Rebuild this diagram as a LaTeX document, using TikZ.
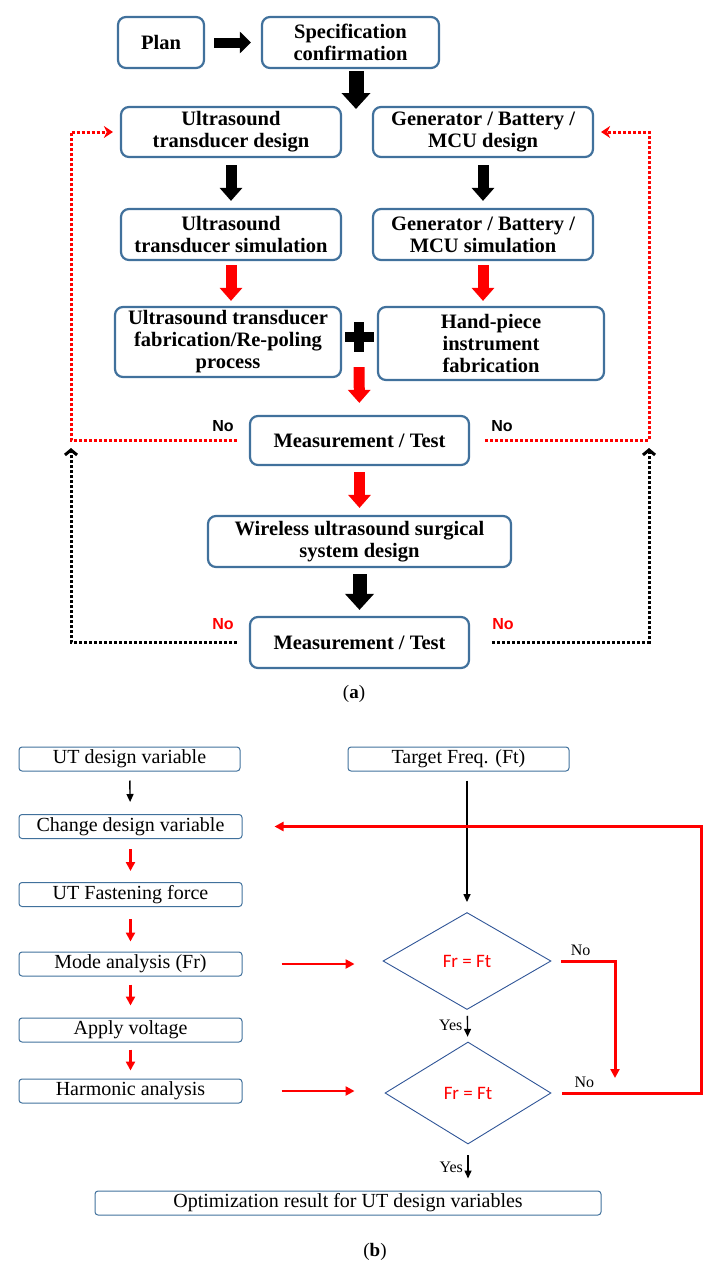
\documentclass[tikz,border=0pt]{standalone}
\usepackage{fontspec}
\setmainfont{Liberation Serif}
\newfontfamily\arialfont{Liberation Sans}
\newfontfamily\calibrifont{Carlito}
\usetikzlibrary{arrows.meta}
\usetikzlibrary{shapes.geometric}

\definecolor{boxblue}{HTML}{41719C}
\definecolor{diablue}{HTML}{2F5597}

\begin{document}
\begin{tikzpicture}[x=1pt,y=-1pt,%
  abox/.style={draw=boxblue,line width=2.2pt,rounded corners=8pt,align=center,%
  inner sep=0pt,font=\fontsize{20.5}{22}\selectfont\bfseries},
  bbox/.style={draw=boxblue,line width=1pt,rounded corners=3pt,minimum height=24pt,%
  inner sep=0pt,font=\fontsize{20}{22}\selectfont},
  cond/.style={diamond,draw=diablue,line width=0.9pt,inner sep=0pt,text=red,%
  font=\calibrifont\fontsize{19}{21}\selectfont},
  fat/.style={line width=11pt,-{Triangle[length=13pt,width=22pt]}},
  fatter/.style={line width=15pt,-{Triangle[length=16pt,width=28pt]}},
  dotline/.style={line width=3pt,dash pattern=on 3pt off 2pt},
  thinarrow/.style={line width=1.4pt,-{Triangle[length=8pt,width=7pt]}},
  redarrow/.style={red,line width=2.5pt,-{Triangle[length=9pt,width=9pt]}},
  nolabel/.style={font=\arialfont\bfseries\fontsize{16}{18}\selectfont},
  small/.style={font=\fontsize{16}{18}\selectfont},
  capt/.style={font=\fontsize{19}{21}\selectfont}]
  \useasboundingbox (0,0) rectangle (714,1274);

  % (a) design flow
  \node[abox,minimum width=86pt,minimum height=51pt]  (plan)  at (161,42.5)    {Plan};
  \node[abox,minimum width=177pt,minimum height=51pt] (spec)  at (350.5,42.5)  {Specification\\confirmation};
  \node[abox,minimum width=220pt,minimum height=50pt] (utd)   at (231,132)     {Ultrasound\\transducer design};
  \node[abox,minimum width=220pt,minimum height=50pt] (gend)  at (483,132)     {Generator / Battery /\\MCU design};
  \node[abox,minimum width=220pt,minimum height=51pt] (uts)   at (231,234.5)   {Ultrasound\\transducer simulation};
  \node[abox,minimum width=220pt,minimum height=51pt] (gens)  at (483,234.5)   {Generator / Battery /\\MCU simulation};
  \node[abox,minimum width=226pt,minimum height=70pt] (utf)   at (228,342)     {Ultrasound transducer\\fabrication/Re-poling\\process};
  \node[abox,minimum width=226pt,minimum height=73pt] (hand)  at (491,343.5)   {Hand-piece\\instrument\\fabrication};
  \node[abox,minimum width=219pt,minimum height=49pt] (meas1) at (359.5,440.5) {Measurement / Test};
  \node[abox,minimum width=303pt,minimum height=51pt] (wire)  at (359.5,541.5) {Wireless ultrasound surgical\\system design};
  \node[abox,minimum width=219pt,minimum height=51pt] (meas2) at (359.5,642.5) {Measurement / Test};
  \node[minimum width=29pt,minimum height=30pt,inner sep=0pt] (plus) at (359,337) {};
  \fill ([xshift=-14.5pt,yshift=-5pt]plus.center) rectangle ([xshift=14.5pt,yshift=5pt]plus.center);
  \fill ([xshift=-5pt]plus.north) rectangle ([xshift=5pt]plus.south);

  \coordinate (fork) at (356,109);
  \coordinate (lx)   at (71,0);
  \coordinate (rx)   at (649,0);
  \coordinate (lup)  at (71,448);
  \coordinate (rup)  at (649,448);

  \draw[fat,line width=10pt,-{Triangle[length=11pt,width=21pt]},shorten <=9pt,shorten >=10pt] (plan) -- (spec);
  \draw[fatter,shorten <=2pt] (spec.south -| fork) -- (fork);
  \draw[fat,shorten <=7pt,shorten >=7pt] (utd) -- (uts);
  \draw[fat,shorten <=7pt,shorten >=7pt] (gend) -- (gens);
  \draw[fat,red,shorten <=4pt,shorten >=5pt] (uts.south) -- (uts.south |- utf.north);
  \draw[fat,red,shorten <=4pt,shorten >=5pt] (gens.south) -- (gens.south |- hand.north);
  \draw[fat,red,shorten <=15pt,shorten >=12pt] (plus) -- (meas1);
  \draw[fat,red,shorten <=6pt,shorten >=7pt] (meas1) -- (wire);
  \draw[fatter,line width=14pt,shorten <=6pt,shorten >=6pt] (wire) -- (meas2);

  \draw[dotline,red,-{Stealth[length=9pt,width=12pt]},shorten <=12pt,shorten >=7pt]
    (meas1.west) -| (lx |- utd) -- (utd.west);
  \draw[dotline,red,-{Stealth[length=9pt,width=12pt]},shorten <=15pt,shorten >=7pt]
    (meas1.east) -| (rx |- gend) -- (gend.east);
  \draw[dotline,-{Straight Barb[length=5pt,width=12pt]},shorten <=12pt] (meas2.west) -| (lup);
  \draw[dotline,-{Straight Barb[length=5pt,width=12pt]},shorten <=22pt] (meas2.east) -| (rup);

  \node[nolabel]     (no1) at (223,426) {No};
  \node[nolabel]     (no2) at (502,426) {No};
  \node[nolabel,red] (no3) at (223,624) {No};
  \node[nolabel,red] (no4) at (503,624) {No};
  \node[capt] (capa) at (354,694) {(\textbf{a})};

  % (b) optimization loop
  \node[bbox,minimum width=221pt] (utv)   at (129.5,759)  {UT design variable};
  \node[bbox,minimum width=221pt] (tf)    at (458.5,759)  {Target Freq. (Ft)};
  \node[bbox,minimum width=223pt] (cdv)   at (130.5,826.5){Change design variable};
  \node[bbox,minimum width=223pt] (utff)  at (130.5,894.5){UT Fastening force};
  \node[bbox,minimum width=223pt] (mode)  at (130.5,964)  {Mode analysis (Fr)};
  \node[bbox,minimum width=223pt] (apply) at (130.5,1030) {Apply voltage};
  \node[bbox,minimum width=223pt] (harm)  at (130.5,1091) {Harmonic analysis};
  \node[bbox,minimum width=506pt] (opt)   at (348,1203)   {Optimization result for UT design variables};
  \node[cond,minimum width=168pt,minimum height=97pt]  (c1) at (467,961)  {Fr = Ft};
  \node[cond,minimum width=166pt,minimum height=102pt] (c2) at (468,1093) {Fr = Ft};

  \coordinate (ntip) at (615,1078);
  \coordinate (bx)   at (701,0);

  \draw[thinarrow,shorten <=9pt,shorten >=12pt] (utv) -- (cdv);
  \draw[thinarrow,shorten <=9pt,shorten >=10pt] (tf.south -| c1.north) -- (c1.north);
  \draw[redarrow,shorten <=10pt,shorten >=11pt] (cdv) -- (utff);
  \draw[redarrow,shorten <=12pt,shorten >=10pt] (utff) -- (mode);
  \draw[redarrow,shorten <=8pt,shorten >=12pt] (mode) -- (apply);
  \draw[redarrow,shorten <=7pt,shorten >=8pt] (apply) -- (harm);
  \draw[redarrow,shorten <=39pt,shorten >=28pt] (mode.east) -- (mode.east -| c1.west);
  \draw[redarrow,shorten <=39pt,shorten >=30pt] (harm.east) -- (harm.east -| c2.west);
  \draw[thinarrow,shorten <=6pt,shorten >=5pt] (c1) -- node[small,left=1pt] {Yes} (c2);
  \draw[thinarrow,shorten <=11pt,shorten >=12pt] (c2.south) -- node[small,left=1pt] {Yes} (c2.south |- opt.north);
  \draw[redarrow,line width=3pt,shorten <=10pt]
    (c1.east) -| node[small,black,pos=0.23,above=1pt] {No} (ntip);
  \draw[redarrow,line width=3pt,shorten <=11pt,shorten >=32pt]
    (c2.east) -| node[small,black,pos=0.11,above=1pt] {No} (bx |- cdv) -- (cdv.east);

  \node[capt] (capb) at (375,1252) {(\textbf{b})};
\end{tikzpicture}
\end{document}
